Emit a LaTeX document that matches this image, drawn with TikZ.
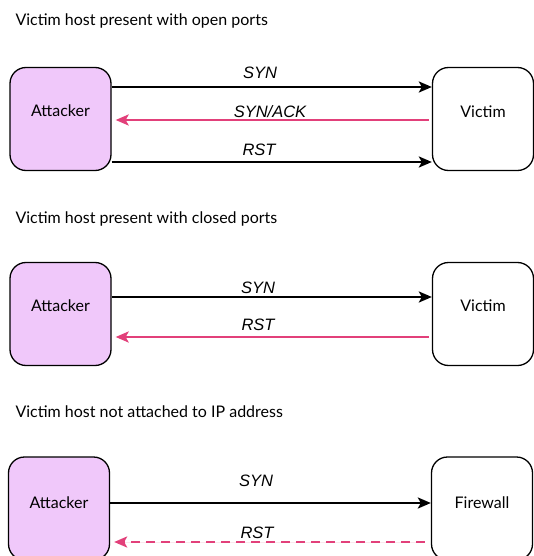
\documentclass[tikz,border=0pt]{standalone}
\usepackage{fontspec}
\setmainfont{Lato}
\newfontfamily\msgfont{Liberation Sans}
\usetikzlibrary{arrows.meta}
\definecolor{attfill}{RGB}{240,200,250}
\definecolor{backred}{RGB}{226,64,122}

\begin{document}
\begin{tikzpicture}[x=1pt,y=-1pt, every node/.style={font=\fontsize{16}{19}\selectfont},
  host/.style={draw,line width=1.3pt,rounded corners=16pt,minimum width=101pt,minimum height=103pt},
  msg/.style={font=\msgfont\itshape\fontsize{16.5}{19}\selectfont,inner sep=0pt},
  fwd/.style={line width=2.6pt,-{Stealth[length=13pt,width=11pt,inset=3pt]}},
  back/.style={fwd,draw=backred,fill=backred,shorten >=4pt,shorten <=3pt}]
\useasboundingbox (0,0) rectangle (534,556);
\node[anchor=base west] (t1) at (12,26) {Victim host present with open ports};
\node[host,fill=attfill,label={[yshift=8pt]center:Attacker}] (att1) at (60.5,119) {};
\node[host,label={[yshift=7pt]center:Victim}] (vic1) at (483,119) {};
\draw[fwd] ([yshift=32pt]att1.east) -- ([yshift=32pt]vic1.west);
\draw[back] ([yshift=-1pt]vic1.west) -- ([yshift=-1pt]att1.east);
\draw[fwd] ([yshift=-43pt]att1.east) -- ([yshift=-43pt]vic1.west);
\node[msg,anchor=base] (syn1) at (260,79) {SYN};
\node[msg,anchor=base] (ack1) at (270,118) {SYN/ACK};
\node[msg,anchor=base] (rst1) at (259,156) {RST};

\node[anchor=base west] (t2) at (12,223) {Victim host present with closed ports};
\node[host,fill=attfill,label={[yshift=8pt]center:Attacker}] (att2) at (60.5,314) {};
\node[host,label={[yshift=8pt]center:Victim}] (vic2) at (483,314) {};
\draw[fwd] ([yshift=17pt]att2.east) -- ([yshift=17pt]vic2.west);
\draw[back] ([yshift=-23pt]vic2.west) -- ([yshift=-23pt]att2.east);
\node[msg,anchor=base] (syn2) at (258,293) {SYN};
\node[msg,anchor=base] (rst2) at (258,330) {RST};

\node[anchor=base west] (t3) at (12,417) {Victim host not attached to IP address};
\node[host,fill=attfill,label={[yshift=6pt]center:Attacker}] (att3) at (59,508.5) {};
\node[host,label={[yshift=6pt]center:Firewall}] (fw3) at (482,508.5) {};
\draw[fwd] ([yshift=5.5pt]att3.east) -- ([yshift=5.5pt]fw3.west);
\draw[back,dash pattern=on 9pt off 6pt,shorten <=6pt] ([yshift=-33.5pt]fw3.west) -- ([yshift=-33.5pt]att3.east);
\node[msg,anchor=base] (syn3) at (256,486) {SYN};
\node[msg,anchor=base] (rst3) at (257,538) {RST};
\end{tikzpicture}
\end{document}
